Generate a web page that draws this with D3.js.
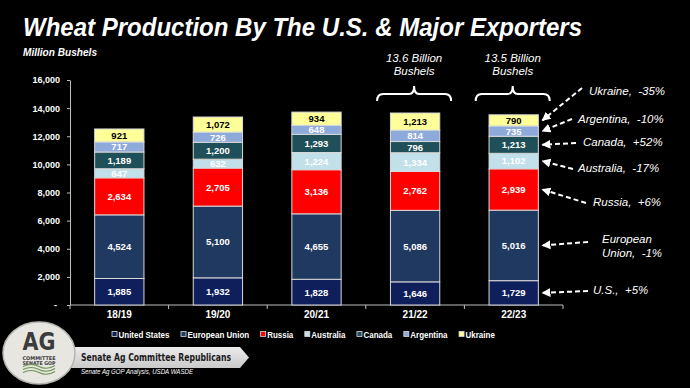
<!DOCTYPE html>
<html>
<head>
<meta charset="utf-8">
<script src="https://cdn.jsdelivr.net/npm/d3@7"></script>
<style>
  body { margin: 0; background: #000; }
  svg { display: block; font-family: "Liberation Sans", Arial, sans-serif; }
  .narrow { font-family: "Liberation Sans Narrow", "DejaVu Sans Condensed", "Liberation Sans", sans-serif; }
</style>
</head>
<body>
<div id="chart"></div>
<script>
// data (million bushels)
const years = ["18/19", "19/20", "20/21", "21/22", "22/23"];
const countries = ["United States", "European Union", "Russia", "Australia", "Canada", "Argentina", "Ukraine"];
const unitedStates = [1885, 1932, 1828, 1646, 1729];
const europeanUnion = [4524, 5100, 4655, 5086, 5016];
const russia = [2634, 2705, 3136, 2762, 2939];
const australia = [647, 632, 1224, 1334, 1102];
const canada = [1189, 1200, 1293, 796, 1213];
const argentina = [717, 726, 648, 814, 735];
const ukraine = [921, 1072, 934, 1213, 790];
const yTicks = [0, 2000, 4000, 6000, 8000, 10000, 12000, 14000, 16000];
const colors = ["#0f1f5c", "#1f3960", "#ff0000", "#c2e0e9", "#1f4f58", "#8eaadb", "#ffff99"];

const totals = [
  { year: "21/22", lines: ["13.6 Billion", "Bushels"] },
  { year: "22/23", lines: ["13.5 Billion", "Bushels"] }
];

// change callouts for 22/23 (country index, text lines, text pos, arrow tail)
const callouts = [
  { k: 6, lines: ["Ukraine,  -35%"], tx: 589, ty: 95, sx: 582, sy: 88 },
  { k: 5, lines: ["Argentina,  -10%"], tx: 578, ty: 123, sx: 572, sy: 119 },
  { k: 4, lines: ["Canada,  +52%"], tx: 583, ty: 146, sx: 576, sy: 143 },
  { k: 3, lines: ["Australia,  -17%"], tx: 578, ty: 172, sx: 573, sy: 169 },
  { k: 2, lines: ["Russia,  +6%"], tx: 593, ty: 206, sx: 586, sy: 203 },
  { k: 1, lines: ["European", "Union,  -1%"], tx: 602, ty: 243, sx: 588, sy: 242 },
  { k: 0, lines: ["U.S.,  +5%"], tx: 593, ty: 294, sx: 588, sy: 291 }
];

const series = [unitedStates, europeanUnion, russia, australia, canada, argentina, ukraine];
const rows = years.map((yr, i) => {
  const r = { year: yr };
  countries.forEach((c, k) => { r[c] = series[k][i]; });
  return r;
});

const W = 690, H = 388;
const svg = d3.select("#chart").append("svg")
  .attr("width", W)
  .attr("height", H);

svg.append("rect").attr("width", W).attr("height", H).attr("fill", "#000");

const defs = svg.append("defs");
defs.append("marker")
  .attr("id", "head")
  .attr("viewBox", "0 0 10 10")
  .attr("refX", 9).attr("refY", 5)
  .attr("markerWidth", 4.5).attr("markerHeight", 4.5)
  .attr("orient", "auto")
  .append("path")
  .attr("d", "M0,0L10,5L0,10z")
  .attr("fill", "#fff");

const grad = defs.append("linearGradient")
  .attr("id", "banner").attr("x1", 0).attr("y1", 0).attr("x2", 0).attr("y2", 1);
grad.append("stop").attr("offset", "0%").attr("stop-color", "#ececec");
grad.append("stop").attr("offset", "100%").attr("stop-color", "#c9c9c9");

// titles
svg.append("text")
  .attr("x", 23).attr("y", 36)
  .attr("fill", "#fff")
  .attr("font-size", 25).attr("font-weight", "bold").attr("font-style", "italic")
  .attr("textLength", 559).attr("lengthAdjust", "spacingAndGlyphs")
  .text("Wheat Production By The U.S. & Major Exporters");

svg.append("text")
  .attr("x", 23).attr("y", 56)
  .attr("fill", "#fff")
  .attr("font-size", 10).attr("font-weight", "bold").attr("font-style", "italic")
  .attr("textLength", 74).attr("lengthAdjust", "spacingAndGlyphs")
  .text("Million Bushels");

const x = d3.scaleBand()
  .domain(years)
  .range([70, 563])
  .paddingInner(0.5)
  .paddingOuter(0.25);

const y = d3.scaleLinear()
  .domain([0, 16000])
  .range([305, 80]);

// y axis
const yAxis = svg.append("g")
  .attr("transform", "translate(70,0)")
  .call(d3.axisLeft(y)
    .tickValues(yTicks)
    .tickSize(3)
    .tickSizeOuter(0)
    .tickPadding(7)
    .tickFormat(d => d === 0 ? "-" : d3.format(",")(d)));
yAxis.select(".domain").attr("stroke", "#bfbfbf");
yAxis.selectAll(".tick line").attr("stroke", "#bfbfbf");
yAxis.selectAll(".tick text")
  .attr("fill", "#fff")
  .attr("font-size", 9)
  .attr("font-weight", "bold")
  .attr("font-family", "Liberation Sans, Arial, sans-serif");
yAxis.selectAll(".tick").filter(d => d === 0).select("text").attr("dx", -3);

// x axis (ticks sit between the bars)
const xAxis = svg.append("g").attr("transform", `translate(0,${y(0)})`);
xAxis.append("line")
  .attr("x1", x.range()[0]).attr("x2", x.range()[1])
  .attr("stroke", "#bfbfbf");
const bounds = years.map(d => x(d) - x.step() * 0.25).concat([x.range()[1]]);
xAxis.selectAll("line.tk")
  .data(bounds)
  .join("line")
  .attr("class", "tk")
  .attr("x1", d => d).attr("x2", d => d)
  .attr("y1", 0).attr("y2", 4)
  .attr("stroke", "#bfbfbf");
xAxis.selectAll("text")
  .data(years)
  .join("text")
  .attr("x", d => x(d) + x.bandwidth() / 2)
  .attr("y", 13)
  .attr("text-anchor", "middle")
  .attr("fill", "#fff")
  .attr("font-size", 10)
  .attr("font-weight", "bold")
  .text(d => d);

// stacked bars
const stacked = d3.stack().keys(countries)(rows);

const layer = svg.append("g")
  .selectAll("g")
  .data(stacked)
  .join("g")
  .attr("fill", (d, k) => colors[k]);

layer.selectAll("rect")
  .data(d => d)
  .join("rect")
  .attr("x", d => x(d.data.year))
  .attr("width", x.bandwidth())
  .attr("y", d => y(d[1]))
  .attr("height", d => y(d[0]) - y(d[1]))
  .attr("stroke", "#d9d9d9")
  .attr("stroke-width", 1);

layer.selectAll("text")
  .data((d, k) => d.map(v => ({ v, k })))
  .join("text")
  .attr("x", d => x(d.v.data.year) + x.bandwidth() / 2)
  .attr("y", d => y((d.v[0] + d.v[1]) / 2))
  .attr("dy", "0.36em")
  .attr("text-anchor", "middle")
  .attr("fill", d => d.k === 6 ? "#000" : "#fff")
  .attr("font-size", 9.5)
  .attr("font-weight", "bold")
  .text(d => d3.format(",")(d.v[1] - d.v[0]));

// total brackets over the last two bars
const br = svg.append("g")
  .selectAll("g")
  .data(totals)
  .join("g")
  .attr("transform", d => `translate(${x(d.year) + x.bandwidth() / 2 - 1},0)`);

br.append("path")
  .attr("d", "M-37,101 Q-37,94 -31,94 L-5,94 Q0,94 0,86 Q0,94 5,94 L31,94 Q37,94 37,101")
  .attr("fill", "none")
  .attr("stroke", "#fff")
  .attr("stroke-width", 2);

br.selectAll("text")
  .data(d => d.lines)
  .join("text")
  .attr("x", 0)
  .attr("y", (d, i) => 62 + i * 13)
  .attr("text-anchor", "middle")
  .attr("fill", "#fff")
  .attr("font-size", 11.5)
  .attr("font-style", "italic")
  .text(d => d);

// callout arrows
const last = years[years.length - 1];
const tipX = x(last) + x.bandwidth() + 4;
const co = svg.append("g")
  .selectAll("g")
  .data(callouts)
  .join("g");

co.append("line")
  .attr("x1", d => d.sx).attr("y1", d => d.sy)
  .attr("x2", tipX)
  .attr("y2", d => {
    const seg = stacked[d.k][years.length - 1];
    return y((seg[0] + seg[1]) / 2);
  })
  .attr("stroke", "#fff")
  .attr("stroke-width", 2)
  .attr("stroke-dasharray", "5,3")
  .attr("marker-end", "url(#head)");

co.selectAll("text")
  .data(d => d.lines.map((t, i) => ({ t, x: d.tx, y: d.ty + i * 14 })))
  .join("text")
  .attr("x", d => d.x)
  .attr("y", d => d.y)
  .attr("fill", "#fff")
  .attr("font-size", 11.5)
  .attr("font-style", "italic")
  .style("white-space", "pre")
  .text(d => d.t);

// legend (condensed bold labels)
const legend = svg.append("g");
let lx = 112;
countries.forEach((c, k) => {
  const g = legend.append("g").attr("transform", `translate(${lx},0)`);
  g.append("rect")
    .attr("x", 0).attr("y", 331.5)
    .attr("width", 5).attr("height", 5)
    .attr("fill", colors[k])
    .attr("stroke", "#d9d9d9")
    .attr("stroke-width", 0.8);
  const t = g.append("text")
    .attr("x", 6.5).attr("y", 337.5)
    .attr("fill", "#fff")
    .attr("font-size", 9.5)
    .attr("font-weight", "bold")
    .text(c);
  const w = t.node().getComputedTextLength() * 0.84;
  t.attr("textLength", w).attr("lengthAdjust", "spacingAndGlyphs");
  lx += 6.5 + w + 11.5;
});

// footer: banner + logo
svg.append("path")
  .attr("d", "M60,347 L240,347 L249,357.5 L240,368 L60,368 Z")
  .attr("fill", "url(#banner)");

svg.append("text")
  .attr("class", "narrow")
  .attr("x", 81).attr("y", 361)
  .attr("fill", "#1a1a1a")
  .attr("font-size", 11)
  .attr("font-weight", "bold")
  .attr("textLength", 150).attr("lengthAdjust", "spacingAndGlyphs")
  .text("Senate Ag Committee Republicans");

svg.append("text")
  .attr("x", 81).attr("y", 374)
  .attr("fill", "#fff")
  .attr("font-size", 6.5)
  .attr("font-style", "italic")
  .attr("textLength", 112).attr("lengthAdjust", "spacingAndGlyphs")
  .text("Senate Ag GOP Analysis, USDA WASDE");

const logo = svg.append("g").attr("class", "narrow");
logo.append("ellipse")
  .attr("cx", 39).attr("cy", 353)
  .attr("rx", 36).attr("ry", 31)
  .attr("fill", "#e7e6e1")
  .attr("stroke", "#b5b5b0")
  .attr("stroke-width", 1.5);
logo.append("text")
  .attr("x", 39).attr("y", 350)
  .attr("text-anchor", "middle")
  .attr("fill", "#3b3b3b")
  .attr("font-size", 25)
  .attr("font-weight", "bold")
  .attr("textLength", 33).attr("lengthAdjust", "spacingAndGlyphs")
  .text("AG");
logo.append("text")
  .attr("x", 39).attr("y", 359.5)
  .attr("text-anchor", "middle")
  .attr("fill", "#3b3b3b")
  .attr("font-size", 5)
  .attr("font-weight", "bold")
  .attr("textLength", 33).attr("lengthAdjust", "spacingAndGlyphs")
  .text("COMMITTEE");
logo.append("text")
  .attr("x", 39).attr("y", 364.5)
  .attr("text-anchor", "middle")
  .attr("fill", "#3b3b3b")
  .attr("font-size", 5)
  .attr("font-weight", "bold")
  .attr("textLength", 33).attr("lengthAdjust", "spacingAndGlyphs")
  .text("SENATE GOP");
[0, 3, 6].forEach(o => {
  logo.append("path")
    .attr("d", `M23,${366.5 + o} Q31,${362.5 + o} 39,${366.5 + o} T55,${365.5 + o}`)
    .attr("fill", "none")
    .attr("stroke", "#6d9356")
    .attr("stroke-width", 1.1);
});
</script>
</body>
</html>
